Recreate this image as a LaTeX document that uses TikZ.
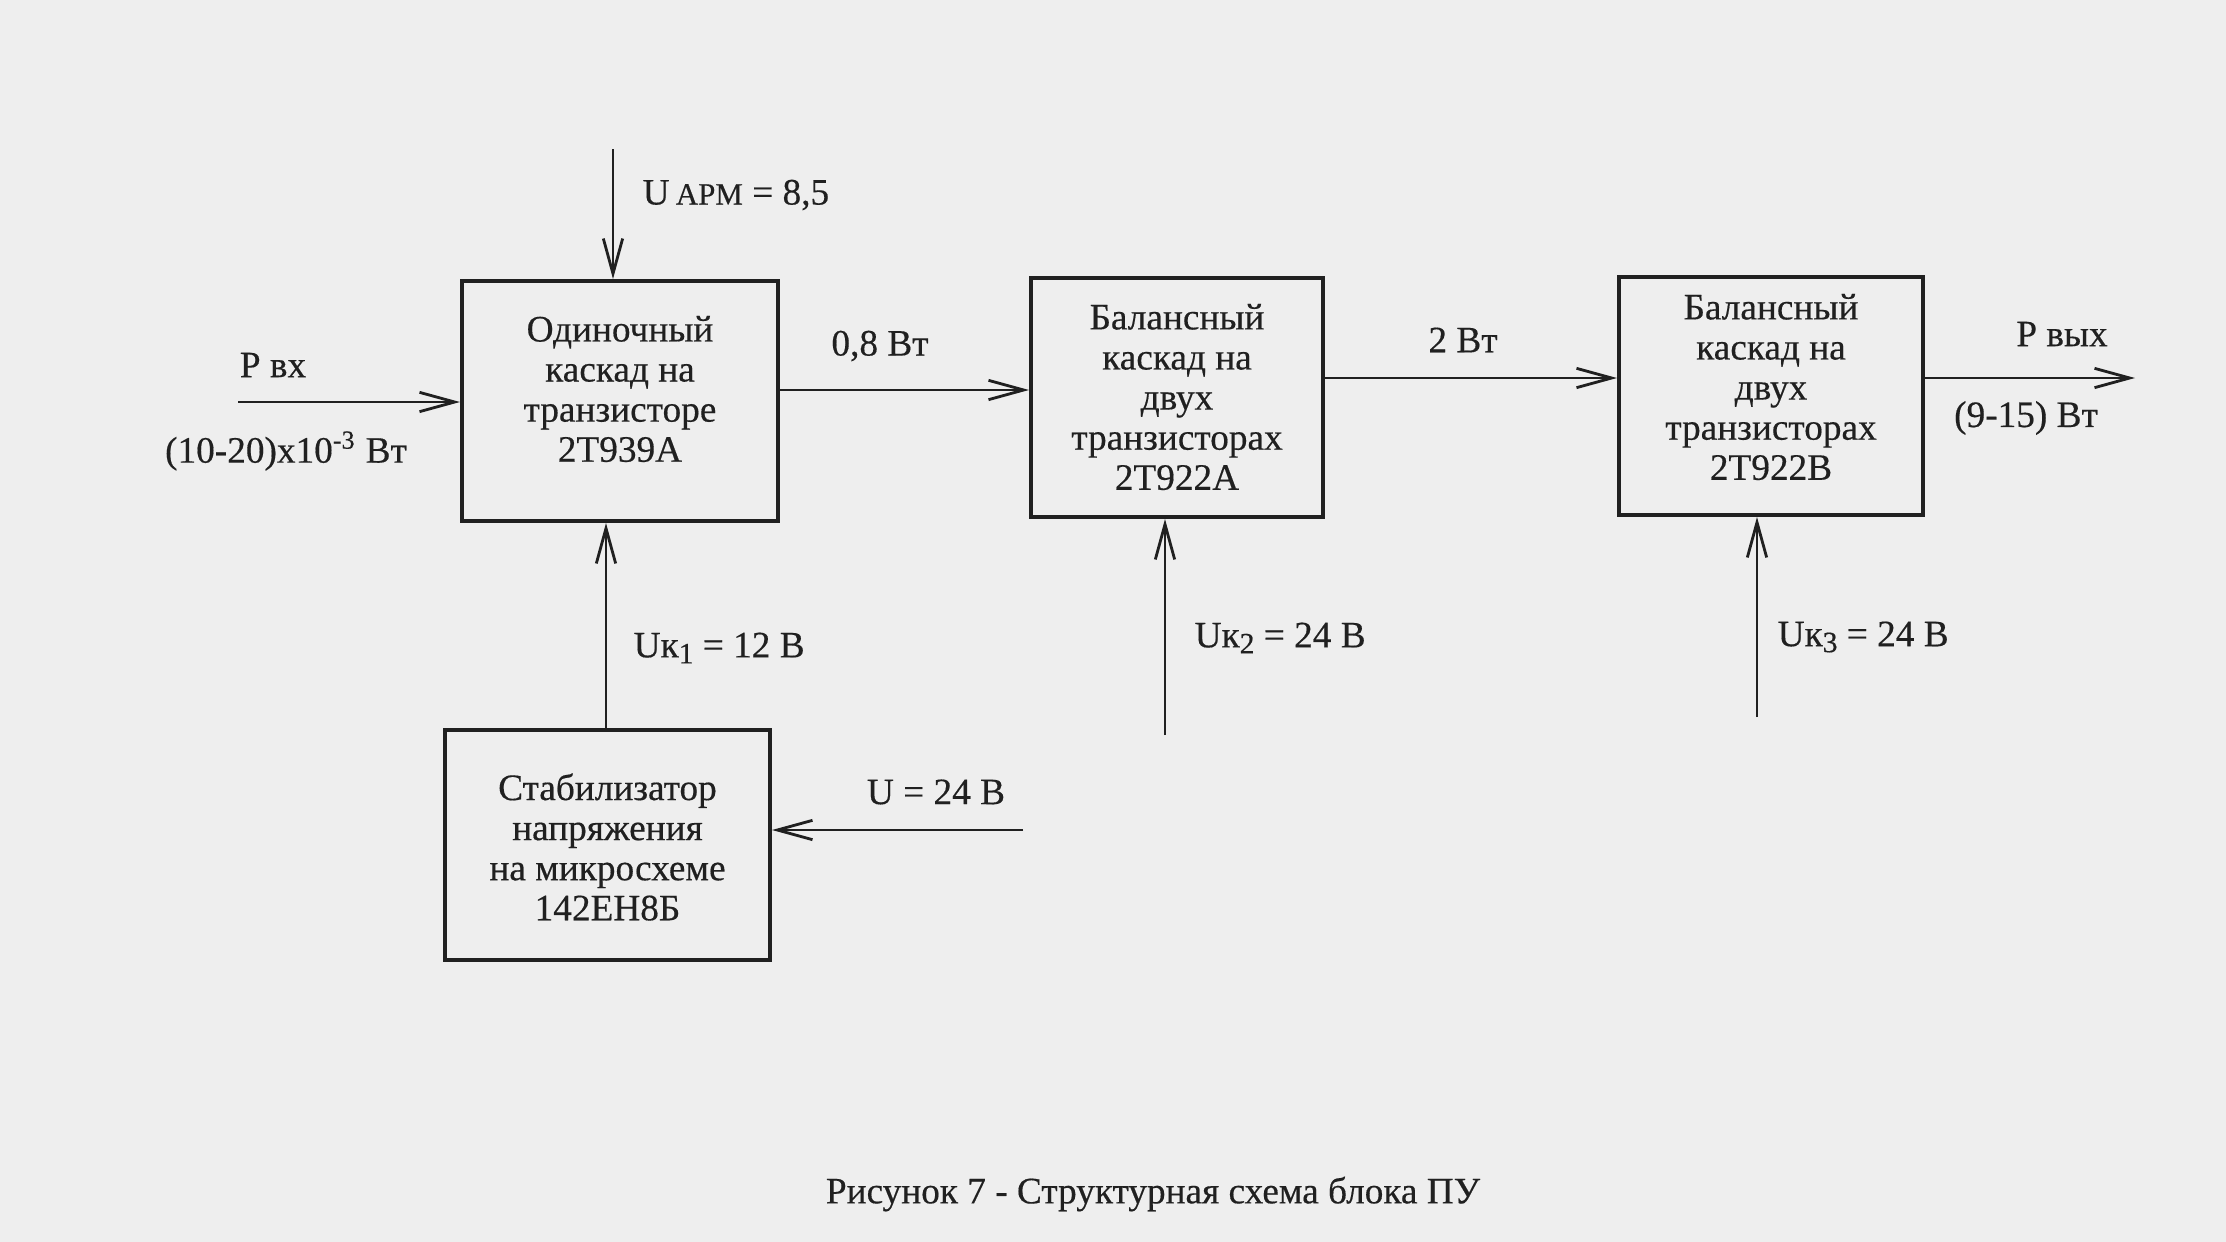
\documentclass[tikz,border=0pt]{standalone}
\usepackage{fontspec}
\setmainfont{Liberation Serif}[FakeBold=0.4]
\usetikzlibrary{arrows.meta}
\definecolor{ink}{RGB}{32,32,32}
\definecolor{paper}{RGB}{238,238,238}
\begin{document}
\begin{tikzpicture}[x=0.01cm,y=-0.01cm,
  every node/.style={font=\fontsize{10.6}{11.4}\selectfont, text=ink},
  blk/.style={draw=ink, line width=1.1pt, inner sep=0pt},
  txt/.style={align=center, inner sep=0pt},
  arr/.style={draw=ink, line width=0.8pt, -{Straight Barb[length=10pt,width=5.5pt,line width=0.8pt]}},
  lbl/.style={inner sep=0pt}]
\fill[paper] (0,0) rectangle (2226,1242);
\useasboundingbox (0,0) rectangle (2226,1242);

\node[blk, minimum width=3.16cm, minimum height=2.40cm] (b1) at (620,401) {};
\node[blk, minimum width=2.92cm, minimum height=2.39cm] (b2) at (1177,397.5) {};
\node[blk, minimum width=3.04cm, minimum height=2.38cm] (b3) at (1771,396) {};
\node[blk, minimum width=3.25cm, minimum height=2.30cm] (b4) at (607.5,845) {};

\node[txt] (t1) at (620,389) {Одиночный\\каскад на\\транзисторе\\2Т939А};
\node[txt] (t2) at (1177,397) {Балансный\\каскад на\\двух\\транзисторах\\2Т922А};
\node[txt] (t3) at (1771,387) {Балансный\\каскад на\\двух\\транзисторах\\2Т922В};
\node[txt] (t4) at (607.5,847) {Стабилизатор\\напряжения\\на микросхеме\\142ЕН8Б};

\coordinate (in) at (238,402);
\coordinate (top) at (613,149);
\coordinate (r12) at (0,390);
\coordinate (r23) at (0,378);
\coordinate (out) at (2135,378);
\coordinate (v41) at (606,0);
\coordinate (u24) at (1023,830);
\coordinate (uk2) at (1165,735);
\coordinate (uk3) at (1757,717);

\draw[arr] (in) -- (in -| b1.west);
\draw[arr] (top) -- (top |- b1.north);
\draw[arr] (b1.east |- r12) -- (b2.west |- r12);
\draw[arr] (b2.east |- r23) -- (b3.west |- r23);
\draw[arr] (b3.east |- out) -- (out);
\draw[arr] (b4.north -| v41) -- (b1.south -| v41);
\draw[arr] (u24) -- (u24 -| b4.east);
\draw[arr] (uk2) -- (uk2 |- b2.south);
\draw[arr] (uk3) -- (uk3 |- b3.south);

\node[lbl, anchor=west] (larm) at (642,195) {U\,{\fontsize{8.8}{10}\selectfont АРМ} = 8,5};
\node[lbl] (lpin) at (273,365) {Р вх};
\node[lbl] (lpin2) at (286,451) {(10-20)x10\textsuperscript{-3} Вт};
\node[lbl] (l08) at (880,346) {0,8 Вт};
\node[lbl] (l2) at (1463,340) {2 Вт};
\node[lbl] (lpout) at (2062,334) {Р вых};
\node[lbl] (lpout2) at (2026,418) {(9-15) Вт};
\node[lbl, anchor=west] (luk1) at (633,648) {Uк\raisebox{-0.35ex}{\fontsize{8.4}{9}\selectfont 1} = 12 В};
\node[lbl, anchor=west] (luk2) at (1194,638) {Uк\raisebox{-0.35ex}{\fontsize{8.4}{9}\selectfont 2} = 24 В};
\node[lbl, anchor=west] (luk3) at (1777,637) {Uк\raisebox{-0.35ex}{\fontsize{8.4}{9}\selectfont 3} = 24 В};
\node[lbl] (lu24) at (936,792) {U = 24 В};
\node[lbl] (cap) at (1153,1194) {Рисунок 7 - Структурная схема блока ПУ};
\end{tikzpicture}
\end{document}
